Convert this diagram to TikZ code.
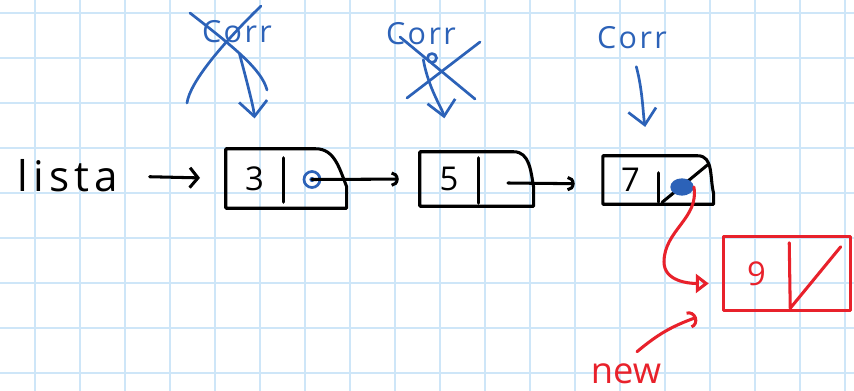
\documentclass[tikz,border=0pt]{standalone}
\usepackage{fontspec}
\setmainfont{Open Sans}
\usetikzlibrary{arrows.meta,positioning,shapes.geometric}
\definecolor{gridblue}{RGB}{206,230,248}
\definecolor{penblue}{RGB}{44,98,184}
\definecolor{penred}{RGB}{232,33,43}
\begin{document}
\begin{tikzpicture}[x=0.3mm, y=-0.3mm,
    ink/.style={line width=2.6pt, line cap=round, line join=round},
    gridline/.style={draw=gridblue, line width=1.1pt},
    val/.style={inner sep=0pt, font=\fontsize{28}{28}\selectfont},
    ptr/.style={inner sep=0pt},
    link/.style={ink, -{Arc Barb[length=6pt, width=13pt]}},
    start/.style={ink, -{Straight Barb[length=7pt, width=17pt]}},
    curlab/.style={inner sep=1pt, text=penblue, font=\fontsize{26}{26}\selectfont\addfontfeature{LetterSpace=8}},
    curptr/.style={ink, draw=penblue, line width=2.3pt, -{Straight Barb[length=13pt, width=24pt]}},
    strike/.style={ink, draw=penblue, line width=2.3pt},
    redink/.style={ink, draw=penred},
    newptr/.style={redink, -{Triangle[open, length=11pt, width=16pt]}}]
  % paper and grid
  \fill[white] (0,0) rectangle (854,391);
  \begin{scope}
    \clip (0,0) rectangle (854,391);
    \draw[gridline, xshift=10.5mm, yshift=-3.9mm, step=13.5mm] (-60,-60) grid (900,420);
  \end{scope}
  \useasboundingbox (0,0) rectangle (854,391);

  \node[inner sep=0pt, anchor=east, font=\fontsize{36}{36}\selectfont\addfontfeature{LetterSpace=12}] (lista) at (118,176) {lista};

  % first cell
  \node[val, minimum width=17.1mm, minimum height=17.7mm] (v1) at (254.5,178.5) {3};
  \node[ptr, minimum width=18.9mm, minimum height=17.7mm, right=0pt of v1] (p1) {};
  \draw[ink] (v1.north west) -- ([shift={(-31,0)}]p1.north east) to[out=0,in=112] ([shift={(0,38)}]p1.north east) -- (p1.south east) -- (v1.south west) -- cycle;
  \draw[ink] ([shift={(0,9)}]v1.north east) -- ([shift={(0,-6)}]v1.south east);
  % second cell
  \node[val, minimum width=17.4mm, minimum height=16.2mm] (v2) at (449,179) {5};
  \node[ptr, minimum width=16.5mm, minimum height=16.2mm, right=0pt of v2] (p2) {};
  \draw[ink] (v2.north west) -- ([shift={(-20,0)}]p2.north east) to[out=0,in=100] ([shift={(0,36)}]p2.north east) -- (p2.south east) -- (v2.south west) -- cycle;
  \draw[ink] ([shift={(0,6)}]v2.north east) -- ([shift={(0,-3)}]v2.south east);
  % third cell
  \node[val, minimum width=16.5mm, minimum height=14.4mm] (v3) at (630.5,180) {7};
  \node[ptr, minimum width=16.5mm, minimum height=14.4mm, right=0pt of v3] (p3) {};
  \draw[ink] (v3.north west) -- ([shift={(-16,0)}]p3.north east) to[out=0,in=105] ([shift={(0,38)}]p3.north east) -- (p3.south east) -- (v3.south west) -- cycle;
  \draw[ink] ([shift={(0,17)}]v3.north east) -- ([shift={(0,-2)}]v3.south east);
  \draw[ink] ([shift={(4,-2)}]p3.south west) -- ([shift={(-6,9)}]p3.north east);
  % new cell
  \node[val, text=penred, minimum width=19.5mm, minimum height=21.9mm] (v4) at (756.5,273.5) {9};
  \node[ptr, minimum width=18.3mm, minimum height=21.9mm, right=0pt of v4] (p4) {};
  \draw[redink] (v4.north west) rectangle (p4.south east);
  \draw[redink] ([shift={(0,6)}]v4.north east) -- ([shift={(1,-2)}]p4.south west) -- ([shift={(-10,10)}]p4.north east);

  % pointers
  \node[circle, draw=penblue, line width=2.3pt, minimum size=4.8mm, inner sep=0pt] (d1) at ([shift={(-3,1)}]p1.center) {};
  \fill[penblue] (d1) circle (2.2pt);
  \node[ellipse, fill=penblue, minimum width=7mm, minimum height=5.2mm, inner sep=0pt] (d3) at ([shift={(-4,7)}]p3.center) {};
  \draw[start, shorten <=27pt, shorten >=22pt] (lista.east) -- (v1.west);
  \draw[link, shorten >=18pt] (d1.center) -- (v2.west);
  \draw[link, shorten >=24pt] ([shift={(2,4)}]p2.center) -- ([shift={(0,4)}]v3.west);
  \draw[newptr] (d3.east) to[out=-80,in=90] (664,262) to[out=-90,in=180] ([shift={(-15,10)}]v4.west);

  % current pointer labels
  \node[curlab] (c1) at (237,32) {Corr};
  \node[curlab] (c2) at (421,34) {Corr};
  \node[curlab] (c3) at (632,38) {Corr};
  \draw[curptr, shorten <=3mm, shorten >=26pt] (c1.south) to[out=-75,in=95] ([shift={(-26,0)}]v1.north east);
  \draw[curptr, shorten <=4mm, shorten >=29pt] (c2.south) to[out=-80,in=100] ([shift={(-28,0)}]v2.north east);
  \draw[curptr, shorten <=5mm, shorten >=25pt] (c3.south) to[out=-75,in=100] ([shift={(-8,0)}]v3.north east);
  \draw[strike] (190,13) .. controls (235,48) and (262,70) .. (267,90);
  \draw[strike] (261,6) .. controls (222,44) and (190,82) .. (187,103);
  \draw[strike] (400,37) -- (475,99);
  \draw[strike] (480,42) -- (407,98);
  \draw[strike] (432,58) circle (4.5);

  \node[inner sep=0pt, text=penred, font=\fontsize{31}{31}\selectfont] (new) at (626,374) {new};
  \draw[redink, -{Arc Barb[length=7pt, width=15pt]}] ([shift={(11,-12)}]new.north) to[bend left=10] ([shift={(-27,7)}]v4.south west);
\end{tikzpicture}
\end{document}
